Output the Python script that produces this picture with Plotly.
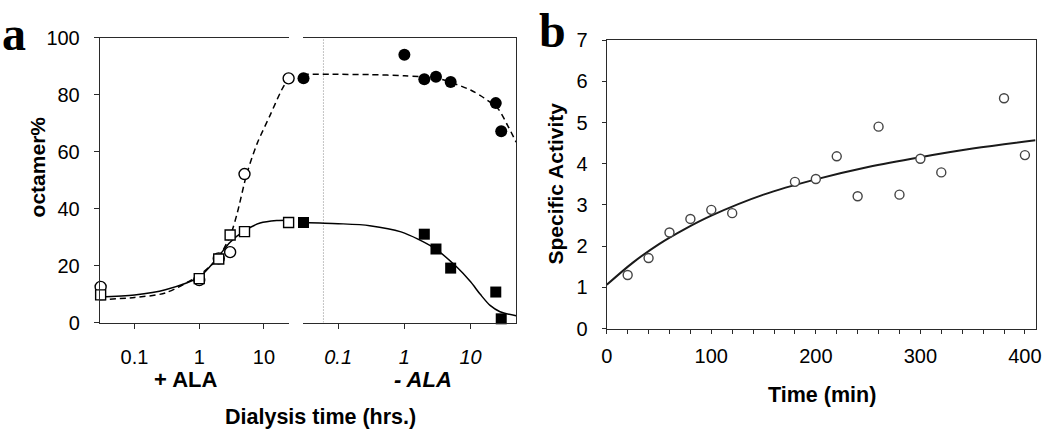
import plotly.graph_objects as go

# ---------------- Panel a data ----------------
# + ALA (left half)
plus_t_circle = [0.03, 1, 2, 3, 5, 24]
plus_oct_circle = [12.5, 14.9, 22.5, 24.7, 52.1, 85.7]
plus_t_square = [0.03, 1, 2, 3, 5, 24]
plus_oct_square = [9.7, 15.4, 22.3, 30.7, 31.9, 35.1]

plus_fit_dash_t = [0.029, 0.1, 0.3, 1, 1.9, 3, 3.85, 5.4, 7.8, 12.4, 18.7, 24.3]
plus_fit_dash_y = [8.0, 8.8, 10.4, 16.7, 22.3, 30.4, 38.3, 52.0, 62.7, 72.7, 81.6, 86.0]
plus_fit_solid_t = [0.029, 0.1, 0.3, 1, 1.9, 3, 4.9, 8.7, 15.7, 24.3]
plus_fit_solid_y = [9.0, 9.7, 11.5, 16.0, 22.7, 28.2, 32.1, 34.9, 35.8, 35.9]

# - ALA (right half)
minus_t_circle = [0.03, 1, 2, 3, 5, 24, 29]
minus_oct_circle = [85.7, 94.0, 85.4, 86.3, 84.4, 77.0, 67.1]
minus_t_square = [0.03, 2, 3, 5, 24, 29]
minus_oct_square = [35.1, 31.0, 25.8, 19.1, 10.7, 1.3]

minus_fit_dash_t = [0.029, 0.1, 0.3, 1, 3, 5, 10, 16, 26, 36, 48.7]
minus_fit_dash_y = [87.1, 87.1, 87.0, 86.6, 85.8, 84.3, 81.6, 78.8, 75.0, 69.3, 63.3]
minus_fit_solid_t = [0.029, 0.1, 0.3, 0.89, 2.8, 6.3, 10, 14, 19.7, 27.8, 48.7]
minus_fit_solid_y = [35.1, 34.7, 34.0, 31.8, 26.2, 19.3, 14.3, 9.9, 6.0, 3.8, 2.4]

divider_t = [0.06, 0.06]
divider_y = [0, 100]

a_y_ticks = [0, 20, 40, 60, 80, 100]
a_x_ticks = [0.1, 1, 10]
a_x_ticklabels = ["0.1", "1", "10"]

# ---------------- Panel b data ----------------
b_time = [20, 40, 60, 80, 100, 120, 180, 200, 220, 240, 260, 280, 300, 320, 380, 400]
b_activity = [1.30, 1.71, 2.33, 2.66, 2.88, 2.80, 3.56, 3.63, 4.18, 3.21, 4.90, 3.25, 4.12, 3.79, 5.59, 4.21]
b_fit_time = [0, 25, 50, 75, 100, 150, 200, 250, 300, 350, 410]
b_fit_activity = [1.06, 1.60, 2.05, 2.42, 2.74, 3.25, 3.62, 3.92, 4.16, 4.37, 4.57]

W, H = 1050, 438
def px(x):
    return x / W
def py(y):
    return 1 - y / H

FONT = "Arial, Liberation Sans, sans-serif"
LINE = "#2a2a2a"

fig = go.Figure()

# left half curves
fig.add_trace(go.Scatter(x=plus_fit_dash_t, y=plus_fit_dash_y, mode="lines",
                         line=dict(color="black", width=1.5, dash="6px,4px", shape="spline", smoothing=0.8),
                         xaxis="x", yaxis="y", cliponaxis=False))
fig.add_trace(go.Scatter(x=plus_fit_solid_t, y=plus_fit_solid_y, mode="lines",
                         line=dict(color="black", width=1.5, shape="spline", smoothing=0.8),
                         xaxis="x", yaxis="y", cliponaxis=False))
fig.add_trace(go.Scatter(x=plus_t_circle, y=plus_oct_circle, mode="markers",
                         marker=dict(symbol="circle", size=11, color="white",
                                     line=dict(color="black", width=1.4)),
                         xaxis="x", yaxis="y", cliponaxis=False))
fig.add_trace(go.Scatter(x=plus_t_square, y=plus_oct_square, mode="markers",
                         marker=dict(symbol="square", size=10, color="white",
                                     line=dict(color="black", width=1.4)),
                         xaxis="x", yaxis="y", cliponaxis=False))

# right half
fig.add_trace(go.Scatter(x=divider_t, y=divider_y, mode="lines",
                         line=dict(color="#888", width=1, dash="1px,2px"),
                         xaxis="x2", yaxis="y2"))
fig.add_trace(go.Scatter(x=minus_fit_dash_t, y=minus_fit_dash_y, mode="lines",
                         line=dict(color="black", width=1.5, dash="6px,4px", shape="spline", smoothing=0.8),
                         xaxis="x2", yaxis="y2", cliponaxis=False))
fig.add_trace(go.Scatter(x=minus_fit_solid_t, y=minus_fit_solid_y, mode="lines",
                         line=dict(color="black", width=1.5, shape="spline", smoothing=0.8),
                         xaxis="x2", yaxis="y2", cliponaxis=False))
fig.add_trace(go.Scatter(x=minus_t_circle, y=minus_oct_circle, mode="markers",
                         marker=dict(symbol="circle", size=12, color="black",
                                     line=dict(color="black", width=0)),
                         xaxis="x2", yaxis="y2", cliponaxis=False))
fig.add_trace(go.Scatter(x=minus_t_square, y=minus_oct_square, mode="markers",
                         marker=dict(symbol="square", size=11, color="black",
                                     line=dict(color="black", width=0)),
                         xaxis="x2", yaxis="y2", cliponaxis=False))

# panel b
fig.add_trace(go.Scatter(x=b_fit_time, y=b_fit_activity, mode="lines",
                         line=dict(color="#1a1a1a", width=2, shape="spline"),
                         xaxis="x3", yaxis="y3", cliponaxis=False))
fig.add_trace(go.Scatter(x=b_time, y=b_activity, mode="markers",
                         marker=dict(symbol="circle", size=9, color="white",
                                     line=dict(color="#444", width=1.4)),
                         xaxis="x3", yaxis="y3", cliponaxis=False))

tickfont = dict(family=FONT, size=20, color="black")

fig.update_layout(
    width=W, height=H,
    margin=dict(l=0, r=0, t=0, b=0),
    paper_bgcolor="white", plot_bgcolor="white",
    showlegend=False,
    xaxis=dict(domain=[px(95), px(286)], type="log", range=[-1.534, 1.382],
               tickvals=a_x_ticks, ticktext=a_x_ticklabels,
               showline=True, linecolor=LINE, linewidth=1.3, mirror=True,
               ticks="outside", ticklen=5, tickcolor=LINE, tickwidth=1.3,
               showgrid=False, zeroline=False, tickfont=tickfont, ticklabelstandoff=11,
               anchor="y"),
    yaxis=dict(domain=[py(328), py(28)], range=[0, 100],
               tickvals=a_y_ticks,
               showline=True, linecolor=LINE, linewidth=1.3,
               ticks="outside", ticklen=5, tickcolor=LINE, tickwidth=1.3,
               showgrid=False, zeroline=False, tickfont=tickfont, ticklabelstandoff=10,
               anchor="x"),
    xaxis2=dict(domain=[px(300), px(516)], type="log", range=[-1.537, 1.687],
                tickvals=a_x_ticks, ticktext=a_x_ticklabels,
                showline=True, linecolor=LINE, linewidth=1.3, mirror=True,
                ticks="outside", ticklen=5, tickcolor=LINE, tickwidth=1.3,
                showgrid=False, zeroline=False,
                tickfont=dict(family=FONT, size=20, color="black", style="italic"),
                ticklabelstandoff=11, anchor="y2"),
    yaxis2=dict(domain=[py(328), py(28)], range=[0, 100], side="right",
                showline=True, linecolor=LINE, linewidth=1.3,
                ticks="", showticklabels=False,
                showgrid=False, zeroline=False, anchor="x2"),
    xaxis3=dict(domain=[px(607.7), px(1041.7)], range=[0, 410.4],
                tickvals=[0, 100, 200, 300, 400],
                showline=True, linecolor=LINE, linewidth=1.3, mirror=True,
                ticks="outside", ticklen=4, tickcolor=LINE, tickwidth=1.3,
                minor=dict(dtick=20, tick0=0, ticks="outside", ticklen=4,
                           tickcolor=LINE, tickwidth=1.3, showgrid=False),
                showgrid=False, zeroline=False, tickfont=tickfont, ticklabelstandoff=5,
                anchor="y3"),
    yaxis3=dict(domain=[py(334.3), py(30.7)], range=[0, 7],
                tickvals=[0, 1, 2, 3, 4, 5, 6, 7],
                showline=True, linecolor=LINE, linewidth=1.3, mirror=True,
                ticks="outside", ticklen=4, tickcolor=LINE, tickwidth=1.3,
                showgrid=False, zeroline=False, tickfont=tickfont, ticklabelstandoff=10,
                anchor="x3"),
)

def ann(text, x, y, size=20, bold=True, italic=False, angle=0, family=FONT):
    t = text
    if bold:
        t = "<b>" + t + "</b>"
    if italic:
        t = "<i>" + t + "</i>"
    fig.add_annotation(text=t, x=px(x), y=py(y), xref="paper", yref="paper",
                       showarrow=False, xanchor="center", yanchor="middle",
                       textangle=angle, font=dict(family=family, size=size, color="black"))

ann("octamer%", 32, 164, size=21, angle=-90)
ann("+ ALA", 182, 388, size=22)
ann("- ALA", 422, 388, size=22, italic=True)
ann("Dialysis time (hrs.)", 318, 427, size=21.5)
ann("Specific Activity", 556, 182, size=21, angle=-90)
ann("Time (min)", 825, 404, size=21.5)
ann("a", 8, 24, size=48, family="Liberation Serif, Times New Roman, serif")
ann("b", 553, 21, size=48, family="Liberation Serif, Times New Roman, serif")

fig.write_html("out.html",
               config={"displayModeBar": False},
               post_script="document.body.style.margin='0';document.body.style.padding='0';")
